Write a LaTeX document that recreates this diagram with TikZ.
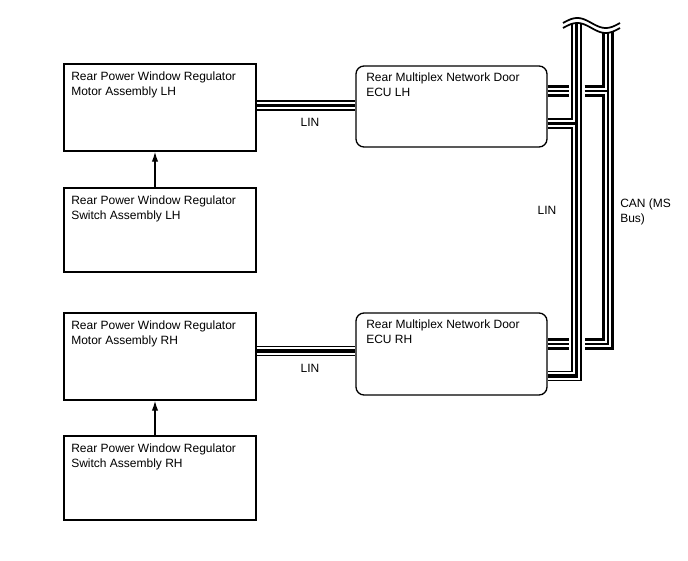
\documentclass[tikz,border=0pt]{standalone}
\usepackage{fontspec}
\setmainfont{Liberation Sans}
\usetikzlibrary{arrows.meta,fit}
\newcommand\linbus[1]{%
  \draw[line width=8pt,line join=miter,line cap=butt] #1;
  \draw[white,line width=5.8pt,line join=miter,line cap=butt] #1;
  \draw[line width=2.9pt,line join=miter,line cap=butt] #1;}
\newcommand\canbus[1]{%
  \draw[line width=9.5pt,line join=miter,line cap=butt] #1;
  \draw[white,line width=5.2pt,line join=miter,line cap=butt] #1;
  \draw[line width=1pt,line join=miter,line cap=butt] #1;}
\begin{document}
\begin{tikzpicture}[x=0.75pt,y=-0.75pt,
  box/.style={draw,line width=1pt,inner sep=0pt},
  ecu/.style={box,rounded corners=6pt},
  txt/.style={font=\fontsize{9pt}{11pt}\selectfont,align=left,inner sep=0pt,anchor=north west},
  lbl/.style={font=\fontsize{9pt}{11pt}\selectfont,inner sep=0pt},
  arr/.style={line width=1pt,-{Latex[length=7.5pt,width=4.8pt]}}]
\useasboundingbox (0,0) rectangle (688,560);
\fill[white] (0,0) rectangle (688,560);
% boxes
\node[box,fit={(64,64)(256,151)}] (mlh) {};
\node[box,fit={(64,188)(256,272)}] (slh) {};
\node[box,fit={(64,313)(256,400)}] (mrh) {};
\node[box,fit={(64,436)(256,520)}] (srh) {};
\node[ecu,fit={(356,66)(547,147)}] (elh) {};
\node[ecu,fit={(356,313)(547,395)}] (erh) {};
% texts
\node[txt] (tmlh) at (71,71.5) {Rear Power Window Regulator\\Motor Assembly LH};
\node[txt] (tslh) at (71,195.5) {Rear Power Window Regulator\\Switch Assembly LH};
\node[txt] (tmrh) at (71,320.5) {Rear Power Window Regulator\\Motor Assembly RH};
\node[txt] (tsrh) at (71,443.5) {Rear Power Window Regulator\\Switch Assembly RH};
\node[txt] (telh) at (366,72.5) {Rear Multiplex Network Door\\ECU LH};
\node[txt] (terh) at (366,319.5) {Rear Multiplex Network Door\\ECU RH};
% arrows
\draw[arr] (slh.north -| 155,0) -- (mlh.south -| 155,0);
\draw[arr] (srh.north -| 155,0) -- (mrh.south -| 155,0);
% LIN between motor and ECU
\linbus{(mlh.east |- 0,105.5) -- (elh.west |- 0,105.5)}
\linbus{(mrh.east |- 0,351) -- (erh.west |- 0,351)}
\node[lbl] (lin1) at (310,122.5) {LIN};
\node[lbl] (lin2) at (310,368) {LIN};
% buses
\coordinate (lintop) at (576.5,8);
\coordinate (cantop) at (608,8);
\canbus{(cantop) -- (cantop |- 0,344) -- (584.5,344) (568.5,344) -- (erh.east |- 0,344) (elh.east |- 0,91) -- (568.5,91) (584.5,91) -- (cantop |- 0,91)}
\linbus{(lintop) -- (lintop |- 0,376) -- (erh.east |- 0,376) (elh.east |- 0,123.5) -- (lintop |- 0,123.5)}
% break symbol
\fill[white] (561,0) -- (622,0) -- (622,28) -- plot[domain=620:563,samples=40] (\x,{28-5*sin((\x-563)*6.3158)}) -- (561,28) -- cycle;
\draw[line width=1.3pt] plot[domain=563:620,samples=40] (\x,{23-5*sin((\x-563)*6.3158)});
\draw[line width=1.3pt] plot[domain=563:620,samples=40] (\x,{28-5*sin((\x-563)*6.3158)});
% bus labels
\node[lbl] (lin3) at (547,210.5) {LIN};
\node[txt] (can) at (620,199) {CAN (MS\\Bus)};
\end{tikzpicture}
\end{document}
